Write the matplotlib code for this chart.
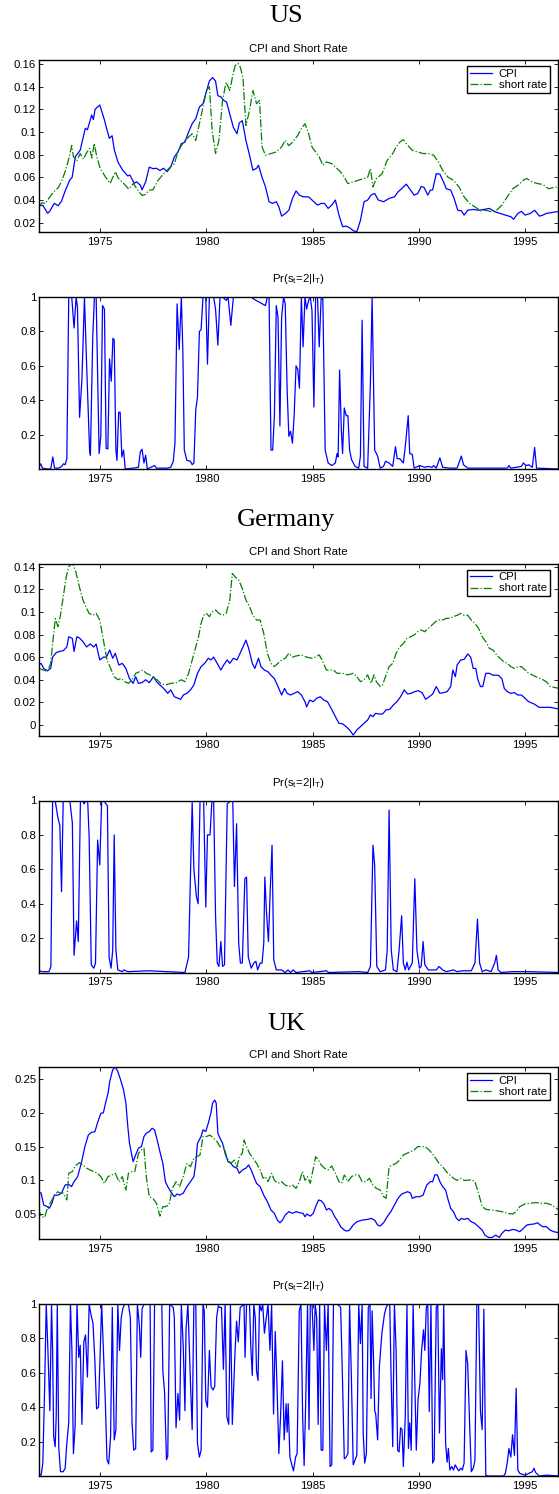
import matplotlib
matplotlib.use("Agg")
import matplotlib.pyplot as plt

plt.rcParams['font.family'] = ['Liberation Sans', 'DejaVu Sans']
plt.rcParams['mathtext.fontset'] = 'custom'
plt.rcParams['mathtext.rm'] = 'Liberation Sans'
plt.rcParams['mathtext.it'] = 'Liberation Sans'
plt.rcParams['mathtext.default'] = 'regular'

# ---------------- US ----------------
us_cpi_t = [1972.12, 1972.3, 1972.53, 1972.62, 1972.84, 1973.02, 1973.18, 1973.34, 1973.57, 1973.68,
            1973.83, 1974.06, 1974.3, 1974.4, 1974.6, 1974.68, 1974.76, 1974.98, 1975.2, 1975.3,
            1975.43, 1975.56, 1975.67, 1975.83, 1976.05, 1976.3, 1976.4, 1976.6, 1976.72, 1976.89,
            1976.97, 1977.14, 1977.31, 1977.48, 1977.65, 1977.81, 1977.98, 1978.15, 1978.32, 1978.49,
            1978.66, 1978.82, 1978.99, 1979.16, 1979.33, 1979.5, 1979.67, 1979.84, 1979.97, 1980.14,
            1980.29, 1980.43, 1980.54, 1980.68, 1980.81, 1980.95, 1981.1, 1981.27, 1981.44, 1981.55,
            1981.69, 1981.86, 1982.03, 1982.19, 1982.36, 1982.45, 1982.62, 1982.78, 1982.95, 1983.12,
            1983.29, 1983.41, 1983.54, 1983.71, 1983.88, 1984.05, 1984.22, 1984.38, 1984.55, 1984.81,
            1985.06, 1985.23, 1985.4, 1985.56, 1985.73, 1985.9, 1986.07, 1986.24, 1986.41, 1986.58,
            1986.74, 1986.91, 1987.08, 1987.25, 1987.42, 1987.59, 1987.75, 1987.92, 1988.09, 1988.34,
            1988.6, 1988.85, 1989.02, 1989.19, 1989.41, 1989.61, 1989.78, 1989.95, 1990.11, 1990.25,
            1990.42, 1990.54, 1990.65, 1990.82, 1990.99, 1991.16, 1991.29, 1991.5, 1991.66, 1991.83,
            1992.0, 1992.13, 1992.3, 1992.56, 1992.81, 1993.06, 1993.32, 1993.57, 1993.82, 1994.07,
            1994.33, 1994.46, 1994.66, 1994.83, 1995.0, 1995.25, 1995.45, 1995.67, 1995.84, 1996.0,
            1996.26, 1996.6]
us_cpi_v = [0.035, 0.0353, 0.0283, 0.030, 0.0371, 0.035, 0.039, 0.0474, 0.0577, 0.060,
            0.0782, 0.084, 0.1033, 0.102, 0.115, 0.111, 0.120, 0.1238, 0.1106, 0.1033,
            0.0944, 0.0967, 0.084, 0.0738, 0.0665, 0.0612, 0.062, 0.0548, 0.056, 0.053,
            0.049, 0.056, 0.069, 0.0677, 0.068, 0.066, 0.068, 0.065, 0.069, 0.078,
            0.0824, 0.0897, 0.091, 0.100, 0.1073, 0.1117, 0.122, 0.125, 0.1336, 0.145,
            0.148, 0.145, 0.132, 0.131, 0.128, 0.1263, 0.116, 0.104, 0.0985, 0.108,
            0.110, 0.0926, 0.0795, 0.0663, 0.068, 0.0707, 0.060, 0.0516, 0.0385, 0.037,
            0.0385, 0.034, 0.0258, 0.028, 0.031, 0.0414, 0.048, 0.0443, 0.0428, 0.0428,
            0.0385, 0.0355, 0.037, 0.037, 0.0326, 0.0355, 0.040, 0.0267, 0.0165, 0.017,
            0.0155, 0.013, 0.012, 0.022, 0.0385, 0.040, 0.0443, 0.0458, 0.040, 0.0385,
            0.0414, 0.0428, 0.0472, 0.050, 0.054, 0.0487, 0.0443, 0.0458, 0.052, 0.051,
            0.0443, 0.0487, 0.049, 0.0633, 0.0628, 0.056, 0.050, 0.0487, 0.0414, 0.031,
            0.0305, 0.0267, 0.031, 0.0317, 0.031, 0.0317, 0.0326, 0.0297, 0.0282, 0.0267,
            0.0253, 0.023, 0.0282, 0.030, 0.0267, 0.0282, 0.031, 0.0258, 0.0267, 0.0282,
            0.029, 0.030]

us_rate_t = [1972.12, 1972.25, 1972.41, 1972.64, 1972.8, 1973.04, 1973.19, 1973.35, 1973.51, 1973.66,
             1973.74, 1973.9, 1974.06, 1974.21, 1974.34, 1974.5, 1974.61, 1974.72, 1974.84, 1975.0,
             1975.24, 1975.47, 1975.71, 1975.86, 1976.1, 1976.34, 1976.57, 1976.72, 1976.89, 1976.97,
             1977.14, 1977.31, 1977.48, 1977.73, 1977.98, 1978.24, 1978.49, 1978.66, 1978.82, 1978.99,
             1979.16, 1979.33, 1979.5, 1979.67, 1979.84, 1980.0, 1980.14, 1980.27, 1980.43, 1980.59,
             1980.76, 1980.93, 1981.1, 1981.22, 1981.35, 1981.49, 1981.6, 1981.72, 1981.86, 1982.03,
             1982.19, 1982.36, 1982.5, 1982.62, 1982.78, 1983.04, 1983.29, 1983.54, 1983.71, 1983.88,
             1984.05, 1984.3, 1984.47, 1984.64, 1984.81, 1984.97, 1985.14, 1985.31, 1985.48, 1985.65,
             1985.9, 1986.15, 1986.32, 1986.49, 1986.66, 1986.91, 1987.17, 1987.42, 1987.59, 1987.72,
             1987.84, 1988.0, 1988.26, 1988.51, 1988.77, 1988.93, 1989.1, 1989.27, 1989.44, 1989.69,
             1989.95, 1990.2, 1990.45, 1990.7, 1990.92, 1991.12, 1991.38, 1991.63, 1991.89, 1992.13,
             1992.39, 1992.64, 1992.9, 1993.15, 1993.4, 1993.66, 1993.91, 1994.16, 1994.42, 1994.67,
             1994.92, 1995.08, 1995.34, 1995.59, 1995.84, 1996.1, 1996.35, 1996.6]
us_rate_v = [0.034, 0.0375, 0.037, 0.043, 0.047, 0.0512, 0.057, 0.065, 0.0755, 0.088,
             0.0782, 0.0747, 0.081, 0.076, 0.081, 0.0856, 0.077, 0.090, 0.0782, 0.068,
             0.0606, 0.0547, 0.065, 0.059, 0.0547, 0.0497, 0.0547, 0.050, 0.0458, 0.044,
             0.045, 0.0487, 0.049, 0.0575, 0.063, 0.068, 0.072, 0.0824, 0.088, 0.0926,
             0.0955, 0.0985, 0.0926, 0.1073, 0.122, 0.1366, 0.140, 0.1014, 0.081, 0.0926,
             0.128, 0.144, 0.1366, 0.148, 0.1585, 0.1605, 0.157, 0.148, 0.1058, 0.119,
             0.1366, 0.125, 0.1278, 0.0868, 0.0795, 0.081, 0.0824, 0.0868, 0.0926, 0.088,
             0.091, 0.097, 0.103, 0.1073, 0.0985, 0.0868, 0.0824, 0.078, 0.0707, 0.0736,
             0.0721, 0.0677, 0.0648, 0.060, 0.0545, 0.056, 0.0575, 0.059, 0.060, 0.0677,
             0.0516, 0.059, 0.063, 0.075, 0.081, 0.0868, 0.091, 0.0932, 0.089, 0.0838,
             0.0824, 0.081, 0.081, 0.0795, 0.0736, 0.0663, 0.060, 0.0575, 0.0516, 0.0428,
             0.037, 0.034, 0.0305, 0.031, 0.0297, 0.031, 0.0355, 0.0428, 0.050, 0.053,
             0.0575, 0.059, 0.056, 0.0545, 0.0537, 0.050, 0.051, 0.0516]

us_prob_t = [1972.12, 1972.2, 1972.28, 1972.48, 1972.67, 1972.77, 1972.85, 1973.04, 1973.19, 1973.27,
             1973.35, 1973.43, 1973.52, 1973.66, 1973.77, 1973.87, 1973.93, 1974.03, 1974.14, 1974.26,
             1974.37, 1974.5, 1974.54, 1974.65, 1974.73, 1974.81, 1974.89, 1974.95, 1975.03, 1975.11,
             1975.2, 1975.28, 1975.36, 1975.44, 1975.52, 1975.6, 1975.66, 1975.74, 1975.79, 1975.87,
             1975.94, 1976.02, 1976.1, 1976.18, 1976.55, 1976.8, 1976.89, 1976.97, 1977.06, 1977.14,
             1977.22, 1977.56, 1977.65, 1978.15, 1978.32, 1978.44, 1978.52, 1978.62, 1978.72, 1978.82,
             1978.89, 1978.96, 1979.08, 1979.25, 1979.33, 1979.41, 1979.5, 1979.58, 1979.67, 1979.75,
             1979.84, 1979.97, 1980.05, 1980.14, 1980.34, 1980.43, 1980.54, 1980.64, 1980.76, 1980.93,
             1981.02, 1981.15, 1981.27, 1982.1, 1982.2, 1982.78, 1982.87, 1982.95, 1983.04, 1983.12,
             1983.2, 1983.29, 1983.37, 1983.46, 1983.54, 1983.63, 1983.71, 1983.8, 1983.88, 1983.96,
             1984.05, 1984.13, 1984.22, 1984.3, 1984.38, 1984.47, 1984.55, 1984.64, 1984.72, 1984.81,
             1984.89, 1984.97, 1985.06, 1985.14, 1985.23, 1985.31, 1985.4, 1985.48, 1985.59, 1985.73,
             1985.9, 1986.07, 1986.15, 1986.2, 1986.27, 1986.35, 1986.41, 1986.49, 1986.58, 1986.66,
             1986.74, 1986.83, 1987.0, 1987.17, 1987.25, 1987.33, 1987.42, 1987.59, 1987.72, 1987.8,
             1987.92, 1988.06, 1988.18, 1988.34, 1988.43, 1988.6, 1988.77, 1988.9, 1988.98, 1989.1,
             1989.27, 1989.36, 1989.5, 1989.57, 1989.69, 1989.78, 1990.03, 1990.28, 1990.45, 1990.62,
             1990.7, 1990.82, 1990.99, 1991.12, 1991.46, 1991.8, 1992.0, 1992.1, 1992.3, 1994.16,
             1994.24, 1994.33, 1994.83, 1994.92, 1995.0, 1995.08, 1995.17, 1995.34, 1995.45, 1995.54,
             1996.6]
us_prob_v = [0.015, 0.03, 0.005, 0.0, 0.0, 0.07, 0.005, 0.005, 0.015, 0.03,
             0.025, 0.06, 1.0, 1.0, 0.82, 1.0, 0.94, 0.30, 0.52, 1.0,
             0.575, 0.11, 0.08, 0.77, 1.0, 1.0, 0.48, 0.09, 0.19, 0.95,
             0.93, 0.12, 0.117, 0.64, 0.51, 0.76, 0.75, 0.11, 0.05, 0.33,
             0.33, 0.07, 0.11, 0.0, 0.005, 0.01, 0.10, 0.115, 0.035, 0.08,
             0.0, 0.02, 0.005, 0.005, 0.01, 0.045, 0.15, 0.96, 0.695, 1.0,
             0.69, 0.11, 0.05, 0.045, 0.025, 0.035, 0.345, 0.42, 0.80, 0.81,
             1.0, 1.0, 0.61, 1.0, 1.0, 0.93, 0.72, 1.0, 1.0, 0.98,
             1.0, 0.835, 1.0, 1.0, 0.99, 0.95, 1.0, 1.0, 0.11, 0.11,
             0.31, 0.95, 0.88, 0.25, 0.88, 1.0, 0.96, 0.46, 0.19, 0.22,
             0.15, 0.31, 0.60, 0.58, 0.47, 1.0, 0.71, 1.0, 0.93, 0.98,
             1.0, 0.92, 0.36, 1.0, 1.0, 0.71, 0.99, 0.99, 0.11, 0.035,
             0.02, 0.035, 0.09, 0.07, 0.575, 0.23, 0.09, 0.355, 0.31, 0.31,
             0.11, 0.055, 0.015, 0.005, 0.075, 0.865, 0.015, 0.005, 0.5, 1.0,
             0.11, 0.075, 0.005, 0.015, 0.045, 0.035, 0.015, 0.13, 0.06, 0.06,
             0.035, 0.13, 0.31, 0.09, 0.085, 0.005, 0.02, 0.01, 0.015, 0.01,
             0.02, 0.005, 0.065, 0.01, 0.005, 0.005, 0.075, 0.025, 0.005, 0.005,
             0.02, 0.005, 0.015, 0.035, 0.025, 0.02, 0.025, 0.01, 0.125, 0.005,
             0.0]

# ---------------- Germany ----------------
de_cpi_t = [1972.09, 1972.22, 1972.34, 1972.51, 1972.67, 1972.76, 1972.93, 1973.09, 1973.26, 1973.43,
            1973.52, 1973.69, 1973.77, 1973.9, 1974.02, 1974.19, 1974.36, 1974.53, 1974.7, 1974.81,
            1974.98, 1975.15, 1975.29, 1975.45, 1975.59, 1975.71, 1975.88, 1976.04, 1976.21, 1976.38,
            1976.55, 1976.67, 1976.8, 1976.97, 1977.14, 1977.31, 1977.51, 1977.65, 1977.81, 1977.98,
            1978.18, 1978.32, 1978.49, 1978.66, 1978.79, 1978.91, 1979.08, 1979.25, 1979.41, 1979.58,
            1979.75, 1979.92, 1980.09, 1980.21, 1980.34, 1980.51, 1980.68, 1980.81, 1980.98, 1981.1,
            1981.27, 1981.44, 1981.55, 1981.72, 1981.86, 1981.99, 1982.16, 1982.28, 1982.45, 1982.57,
            1982.73, 1982.9, 1983.04, 1983.2, 1983.37, 1983.54, 1983.68, 1983.8, 1983.96, 1984.13,
            1984.3, 1984.47, 1984.64, 1984.72, 1984.86, 1985.03, 1985.19, 1985.36, 1985.53, 1985.7,
            1985.87, 1986.07, 1986.24, 1986.41, 1986.58, 1986.74, 1986.91, 1987.08, 1987.25, 1987.42,
            1987.59, 1987.72, 1987.84, 1987.96, 1988.13, 1988.29, 1988.46, 1988.63, 1988.8, 1988.97,
            1989.14, 1989.31, 1989.47, 1989.64, 1989.81, 1989.98, 1990.15, 1990.32, 1990.49, 1990.65,
            1990.82, 1990.99, 1991.16, 1991.33, 1991.5, 1991.6, 1991.72, 1991.8, 1991.97, 1992.13,
            1992.3, 1992.44, 1992.56, 1992.68, 1992.78, 1992.9, 1993.01, 1993.15, 1993.32, 1993.49,
            1993.74, 1993.91, 1994.02, 1994.16, 1994.33, 1994.5, 1994.66, 1994.83, 1995.0, 1995.17,
            1995.42, 1995.67, 1995.93, 1996.18, 1996.44, 1996.6]
de_cpi_v = [0.053, 0.0545, 0.050, 0.048, 0.050, 0.060, 0.064, 0.065, 0.0657, 0.069,
            0.078, 0.0766, 0.065, 0.078, 0.077, 0.0737, 0.069, 0.0716, 0.069, 0.0716,
            0.0575, 0.060, 0.060, 0.0663, 0.059, 0.0634, 0.053, 0.0545, 0.050, 0.041,
            0.0368, 0.0427, 0.0368, 0.0374, 0.040, 0.0374, 0.0427, 0.0383, 0.0354, 0.0324,
            0.028, 0.031, 0.025, 0.0236, 0.0227, 0.0265, 0.028, 0.031, 0.0354, 0.0457,
            0.0516, 0.0545, 0.059, 0.0575, 0.060, 0.0545, 0.0486, 0.053, 0.0575, 0.0545,
            0.059, 0.0575, 0.062, 0.069, 0.075, 0.0678, 0.0545, 0.050, 0.059, 0.0516,
            0.0486, 0.047, 0.044, 0.041, 0.034, 0.0265, 0.0324, 0.028, 0.0265, 0.028,
            0.0295, 0.0265, 0.0206, 0.016, 0.022, 0.0206, 0.0236, 0.025, 0.022, 0.0206,
            0.0147, 0.0074, 0.0015, 0.001, -0.0015, -0.0044, -0.0089, -0.0044, -0.0015, 0.0015,
            0.0044, 0.0089, 0.0074, 0.0103, 0.0097, 0.0097, 0.0133, 0.0138, 0.0177, 0.0206,
            0.025, 0.031, 0.0274, 0.028, 0.0295, 0.0303, 0.0286, 0.0227, 0.025, 0.0274,
            0.034, 0.028, 0.0286, 0.0295, 0.034, 0.0486, 0.0427, 0.053, 0.0575, 0.058,
            0.0628, 0.060, 0.050, 0.050, 0.040, 0.034, 0.034, 0.0457, 0.0457, 0.044,
            0.044, 0.041, 0.0324, 0.0295, 0.028, 0.0286, 0.0265, 0.0265, 0.0236, 0.0206,
            0.0186, 0.0156, 0.0156, 0.0156, 0.0147, 0.0138]

de_rate_t = [1972.09, 1972.34, 1972.51, 1972.67, 1972.76, 1972.89, 1973.01, 1973.13, 1973.26, 1973.4,
             1973.52, 1973.69, 1973.85, 1974.02, 1974.19, 1974.36, 1974.48, 1974.65, 1974.81, 1974.98,
             1975.15, 1975.32, 1975.49, 1975.66, 1975.83, 1975.99, 1976.16, 1976.33, 1976.5, 1976.67,
             1976.84, 1977.0, 1977.17, 1977.34, 1977.51, 1977.68, 1977.85, 1978.07, 1978.32, 1978.57,
             1978.82, 1978.99, 1979.16, 1979.33, 1979.5, 1979.63, 1979.75, 1979.87, 1980.0, 1980.14,
             1980.26, 1980.43, 1980.59, 1980.76, 1980.93, 1981.1, 1981.22, 1981.35, 1981.52, 1981.69,
             1981.86, 1982.03, 1982.19, 1982.36, 1982.53, 1982.7, 1982.87, 1983.04, 1983.2, 1983.37,
             1983.54, 1983.71, 1983.88, 1984.05, 1984.22, 1984.47, 1984.72, 1984.97, 1985.14, 1985.31,
             1985.48, 1985.65, 1985.82, 1985.98, 1986.15, 1986.41, 1986.66, 1986.91, 1987.08, 1987.25,
             1987.42, 1987.59, 1987.75, 1987.89, 1988.0, 1988.18, 1988.29, 1988.43, 1988.6, 1988.77,
             1988.93, 1989.1, 1989.27, 1989.44, 1989.61, 1989.78, 1989.95, 1990.11, 1990.28, 1990.45,
             1990.62, 1990.79, 1990.95, 1991.12, 1991.29, 1991.46, 1991.63, 1991.8, 1991.97, 1992.13,
             1992.3, 1992.47, 1992.64, 1992.81, 1992.98, 1993.15, 1993.32, 1993.49, 1993.66, 1993.82,
             1993.99, 1994.16, 1994.33, 1994.5, 1994.66, 1994.83, 1995.0, 1995.17, 1995.34, 1995.5,
             1995.67, 1995.84, 1996.0, 1996.18, 1996.35, 1996.6]
de_rate_v = [0.050, 0.0486, 0.047, 0.0545, 0.072, 0.094, 0.087, 0.097, 0.1135, 0.131,
             0.140, 0.143, 0.1356, 0.1223, 0.1105, 0.1032, 0.0987, 0.097, 0.0987, 0.0928,
             0.075, 0.0575, 0.050, 0.0427, 0.040, 0.0413, 0.0383, 0.0368, 0.040, 0.0457,
             0.047, 0.0486, 0.0457, 0.0443, 0.0413, 0.040, 0.0368, 0.0354, 0.0368, 0.0374,
             0.040, 0.0383, 0.0457, 0.0575, 0.069, 0.078, 0.0899, 0.097, 0.0987, 0.0958,
             0.100, 0.1017, 0.0987, 0.097, 0.0987, 0.1105, 0.134, 0.131, 0.128, 0.1208,
             0.1105, 0.1046, 0.097, 0.0928, 0.0928, 0.081, 0.0634, 0.0545, 0.0516, 0.0545,
             0.0575, 0.059, 0.0634, 0.060, 0.061, 0.062, 0.060, 0.059, 0.060, 0.062,
             0.056, 0.0486, 0.0486, 0.0486, 0.0457, 0.0457, 0.0443, 0.0457, 0.0427, 0.0383,
             0.040, 0.0443, 0.0368, 0.0443, 0.0383, 0.034, 0.0354, 0.0427, 0.0516, 0.0545,
             0.0634, 0.069, 0.072, 0.0766, 0.078, 0.0796, 0.0825, 0.084, 0.0825, 0.0855,
             0.0884, 0.0914, 0.0928, 0.0928, 0.0943, 0.0943, 0.0958, 0.097, 0.0987, 0.097,
             0.097, 0.0928, 0.0899, 0.0855, 0.078, 0.0737, 0.0678, 0.0663, 0.062, 0.059,
             0.056, 0.0545, 0.0516, 0.050, 0.0516, 0.0516, 0.0486, 0.0457, 0.0443, 0.0427,
             0.0413, 0.040, 0.0383, 0.034, 0.0333, 0.0324]

de_prob_t = [1972.09, 1972.14, 1972.26, 1972.59, 1972.68, 1972.76, 1972.88, 1973.01, 1973.1, 1973.18,
             1973.26, 1973.43, 1973.57, 1973.69, 1973.77, 1973.89, 1973.97, 1974.07, 1974.19, 1974.24,
             1974.33, 1974.41, 1974.48, 1974.58, 1974.7, 1974.78, 1974.88, 1974.98, 1975.07, 1975.17,
             1975.27, 1975.34, 1975.42, 1975.51, 1975.59, 1975.66, 1975.74, 1975.83, 1976.04, 1976.12,
             1976.3, 1977.31, 1978.99, 1979.16, 1979.33, 1979.41, 1979.53, 1979.61, 1979.7, 1979.87,
             1979.97, 1980.05, 1980.17, 1980.26, 1980.34, 1980.43, 1980.51, 1980.59, 1980.68, 1980.76,
             1980.85, 1980.98, 1981.15, 1981.24, 1981.32, 1981.42, 1981.52, 1981.6, 1981.69, 1981.81,
             1981.89, 1981.97, 1982.11, 1982.23, 1982.33, 1982.41, 1982.53, 1982.62, 1982.7, 1982.75,
             1982.83, 1982.92, 1983.0, 1983.09, 1983.17, 1983.29, 1983.54, 1983.71, 1983.84, 1983.96,
             1984.08, 1984.22, 1984.86, 1984.97, 1985.65, 1985.75, 1987.17, 1987.59, 1987.72, 1987.84,
             1987.92, 1988.02, 1988.18, 1988.43, 1988.51, 1988.6, 1988.7, 1988.8, 1988.97, 1989.07,
             1989.19, 1989.27, 1989.36, 1989.44, 1989.52, 1989.69, 1989.81, 1989.91, 1990.03, 1990.11,
             1990.2, 1990.28, 1990.45, 1990.7, 1990.82, 1990.95, 1991.12, 1991.29, 1991.63, 1991.8,
             1992.05, 1992.47, 1992.64, 1992.76, 1992.86, 1992.98, 1993.15, 1993.4, 1993.57, 1993.65,
             1993.73, 1993.87, 1994.37, 1995.2, 1996.6]
de_prob_v = [0.13, 0.01, 0.005, 0.005, 0.035, 1.0, 1.0, 0.9, 0.855, 0.47,
             1.0, 1.0, 1.0, 0.87, 0.10, 0.30, 0.18, 1.0, 1.0, 0.98,
             1.0, 1.0, 0.79, 0.045, 0.025, 0.055, 0.77, 0.625, 1.0, 1.0,
             0.98, 0.97, 0.09, 0.025, 0.13, 0.80, 0.13, 0.015, 0.005, 0.015,
             0.005, 0.01, 0.0, 0.09, 0.99, 0.60, 0.44, 0.40, 1.0, 1.0,
             0.38, 0.80, 0.80, 1.0, 1.0, 0.33, 0.055, 0.035, 0.18, 0.035,
             0.045, 0.98, 1.0, 1.0, 0.50, 0.865, 0.17, 0.055, 0.055, 0.545,
             0.555, 0.09, 0.025, 0.055, 0.065, 0.015, 0.055, 0.055, 0.17, 0.555,
             0.345, 0.18, 0.46, 0.74, 0.075, 0.015, 0.015, 0.0, 0.015, 0.0,
             0.015, 0.0, 0.01, 0.0, 0.01, 0.0, 0.005, 0.0, 0.035, 0.74,
             0.625, 0.035, 0.005, 0.015, 0.13, 0.945, 0.13, 0.015, 0.005, 0.13,
             0.33, 0.055, 0.015, 0.06, 0.015, 0.055, 0.545, 0.13, 0.025, 0.035,
             0.18, 0.045, 0.015, 0.015, 0.015, 0.035, 0.015, 0.005, 0.015, 0.005,
             0.01, 0.01, 0.055, 0.31, 0.055, 0.005, 0.015, 0.005, 0.055, 0.10,
             0.015, 0.0, 0.005, 0.005, 0.0]

# ---------------- UK ----------------
uk_cpi_t = [1972.09, 1972.22, 1972.34, 1972.51, 1972.6, 1972.73, 1972.84, 1973.01, 1973.18, 1973.35,
            1973.52, 1973.65, 1973.77, 1973.94, 1974.11, 1974.28, 1974.44, 1974.58, 1974.75, 1974.87,
            1975.03, 1975.15, 1975.25, 1975.37, 1975.45, 1975.59, 1975.71, 1975.83, 1975.96, 1976.1,
            1976.21, 1976.3, 1976.38, 1976.47, 1976.55, 1976.67, 1976.8, 1976.94, 1977.06, 1977.17,
            1977.31, 1977.44, 1977.56, 1977.68, 1977.81, 1977.95, 1978.07, 1978.18, 1978.32, 1978.49,
            1978.62, 1978.74, 1978.91, 1979.08, 1979.25, 1979.41, 1979.5, 1979.58, 1979.75, 1979.84,
            1979.97, 1980.09, 1980.21, 1980.29, 1980.39, 1980.46, 1980.54, 1980.64, 1980.76, 1980.88,
            1981.02, 1981.15, 1981.27, 1981.44, 1981.55, 1981.69, 1981.86, 1981.99, 1982.11, 1982.23,
            1982.36, 1982.53, 1982.7, 1982.87, 1983.04, 1983.2, 1983.34, 1983.46, 1983.58, 1983.71,
            1983.88, 1984.05, 1984.22, 1984.38, 1984.55, 1984.64, 1984.72, 1984.89, 1985.03, 1985.14,
            1985.28, 1985.4, 1985.53, 1985.65, 1985.77, 1985.9, 1986.04, 1986.15, 1986.32, 1986.49,
            1986.61, 1986.74, 1986.91, 1987.08, 1987.33, 1987.59, 1987.75, 1987.92, 1988.06, 1988.18,
            1988.34, 1988.51, 1988.68, 1988.85, 1989.02, 1989.19, 1989.36, 1989.47, 1989.61, 1989.69,
            1989.86, 1990.03, 1990.2, 1990.37, 1990.54, 1990.65, 1990.75, 1990.87, 1990.99, 1991.12,
            1991.26, 1991.38, 1991.5, 1991.63, 1991.77, 1991.89, 1992.0, 1992.13, 1992.3, 1992.47,
            1992.64, 1992.81, 1992.98, 1993.11, 1993.28, 1993.45, 1993.62, 1993.79, 1993.91, 1994.07,
            1994.24, 1994.41, 1994.58, 1994.75, 1994.92, 1995.08, 1995.25, 1995.42, 1995.59, 1995.71,
            1995.84, 1996.01, 1996.18, 1996.35, 1996.6]
uk_cpi_v = [0.0832, 0.081, 0.0634, 0.061, 0.0584, 0.066, 0.078, 0.078, 0.081, 0.093,
            0.094, 0.0906, 0.098, 0.1055, 0.1252, 0.150, 0.167, 0.171, 0.172, 0.1847,
            0.1995, 0.200, 0.2144, 0.229, 0.2465, 0.2639, 0.268, 0.2614, 0.249, 0.234,
            0.2144, 0.1797, 0.155, 0.140, 0.1277, 0.1376, 0.1475, 0.150, 0.1649, 0.1698,
            0.1723, 0.1772, 0.1748, 0.160, 0.1426, 0.1252, 0.098, 0.0906, 0.0832, 0.0757,
            0.0797, 0.078, 0.081, 0.0906, 0.098, 0.1055, 0.125, 0.155, 0.165, 0.1748,
            0.1723, 0.185, 0.1995, 0.2144, 0.219, 0.2144, 0.170, 0.1624, 0.155, 0.140,
            0.1277, 0.1252, 0.1203, 0.118, 0.1104, 0.1153, 0.118, 0.1228, 0.1153, 0.1055,
            0.0955, 0.0906, 0.078, 0.0683, 0.056, 0.051, 0.041, 0.0371, 0.041, 0.0485,
            0.0535, 0.051, 0.0535, 0.052, 0.051, 0.046, 0.050, 0.047, 0.051, 0.0609,
            0.0708, 0.0698, 0.065, 0.056, 0.0584, 0.055, 0.046, 0.041, 0.0312, 0.0262,
            0.0247, 0.0262, 0.0337, 0.0386, 0.041, 0.042, 0.0436, 0.041, 0.0337, 0.0322,
            0.0371, 0.046, 0.0535, 0.0634, 0.0733, 0.0797, 0.0817, 0.0832, 0.081, 0.0733,
            0.0757, 0.0757, 0.078, 0.093, 0.098, 0.098, 0.108, 0.108, 0.098, 0.0906,
            0.0856, 0.0708, 0.0584, 0.0535, 0.0436, 0.0401, 0.0436, 0.042, 0.0436, 0.0386,
            0.0361, 0.0312, 0.0262, 0.0188, 0.0153, 0.0153, 0.0188, 0.0153, 0.0213, 0.0262,
            0.0252, 0.0272, 0.0262, 0.0238, 0.0287, 0.0337, 0.0347, 0.0352, 0.0371, 0.0337,
            0.0312, 0.0312, 0.0262, 0.0238, 0.0222]

uk_rate_t = [1972.09, 1972.22, 1972.39, 1972.51, 1972.68, 1972.84, 1973.01, 1973.13, 1973.26, 1973.43,
             1973.52, 1973.69, 1973.85, 1974.02, 1974.19, 1974.36, 1974.53, 1974.7, 1974.87, 1975.03,
             1975.2, 1975.37, 1975.54, 1975.71, 1975.88, 1976.04, 1976.21, 1976.33, 1976.5, 1976.63,
             1976.8, 1976.94, 1977.06, 1977.17, 1977.31, 1977.48, 1977.65, 1977.81, 1977.95, 1978.07,
             1978.24, 1978.4, 1978.57, 1978.74, 1978.91, 1979.08, 1979.25, 1979.41, 1979.55, 1979.7,
             1979.84, 1980.0, 1980.17, 1980.34, 1980.51, 1980.64, 1980.81, 1980.98, 1981.15, 1981.32,
             1981.44, 1981.55, 1981.69, 1981.77, 1981.89, 1982.03, 1982.19, 1982.36, 1982.53, 1982.67,
             1982.78, 1982.9, 1983.07, 1983.2, 1983.37, 1983.54, 1983.71, 1983.88, 1984.05, 1984.22,
             1984.38, 1984.52, 1984.64, 1984.76, 1984.89, 1985.03, 1985.14, 1985.28, 1985.4, 1985.56,
             1985.73, 1985.9, 1986.07, 1986.24, 1986.37, 1986.49, 1986.66, 1986.83, 1987.0, 1987.17,
             1987.33, 1987.5, 1987.67, 1987.84, 1988.0, 1988.18, 1988.34, 1988.46, 1988.6, 1988.77,
             1988.93, 1989.1, 1989.27, 1989.44, 1989.61, 1989.78, 1989.95, 1990.11, 1990.28, 1990.45,
             1990.62, 1990.79, 1990.95, 1991.12, 1991.29, 1991.46, 1991.63, 1991.8, 1991.97, 1992.13,
             1992.3, 1992.47, 1992.64, 1992.81, 1992.98, 1993.15, 1993.4, 1993.66, 1993.91, 1994.16,
             1994.42, 1994.58, 1994.75, 1995.0, 1995.25, 1995.5, 1995.76, 1996.01, 1996.26, 1996.48,
             1996.6]
uk_rate_v = [0.0584, 0.046, 0.045, 0.0584, 0.068, 0.078, 0.083, 0.081, 0.081, 0.071,
             0.1104, 0.113, 0.122, 0.1262, 0.1228, 0.118, 0.1153, 0.113, 0.1104, 0.1055,
             0.0955, 0.1055, 0.108, 0.1104, 0.098, 0.1055, 0.0856, 0.1104, 0.113, 0.113,
             0.140, 0.145, 0.1475, 0.1055, 0.0757, 0.0733, 0.066, 0.047, 0.0609, 0.0609,
             0.0634, 0.088, 0.098, 0.0906, 0.1055, 0.125, 0.1203, 0.1327, 0.135, 0.1376,
             0.165, 0.165, 0.167, 0.1624, 0.157, 0.150, 0.150, 0.1327, 0.1252, 0.130,
             0.1203, 0.135, 0.140, 0.160, 0.150, 0.140, 0.1327, 0.1252, 0.1153, 0.103,
             0.1055, 0.098, 0.1104, 0.100, 0.0955, 0.098, 0.093, 0.0906, 0.093, 0.088,
             0.098, 0.113, 0.100, 0.1055, 0.0955, 0.118, 0.135, 0.130, 0.1228, 0.118,
             0.1153, 0.1213, 0.1104, 0.098, 0.0955, 0.108, 0.098, 0.1055, 0.108, 0.108,
             0.098, 0.098, 0.103, 0.093, 0.088, 0.0856, 0.0757, 0.0733, 0.1203, 0.1228,
             0.1252, 0.130, 0.1376, 0.140, 0.1426, 0.145, 0.150, 0.150, 0.150, 0.146,
             0.140, 0.1327, 0.1252, 0.1203, 0.113, 0.108, 0.103, 0.100, 0.103, 0.100,
             0.100, 0.1011, 0.098, 0.0807, 0.061, 0.057, 0.056, 0.055, 0.0535, 0.051,
             0.050, 0.0535, 0.061, 0.065, 0.066, 0.067, 0.066, 0.066, 0.0634, 0.0584,
             0.056]

uk_prob_t = [1972.09, 1972.14, 1972.22, 1972.3, 1972.39, 1972.46, 1972.54, 1972.63, 1972.71, 1972.76,
             1972.81, 1972.88, 1972.93, 1972.98, 1973.05, 1973.13, 1973.26, 1973.35, 1973.43, 1973.52,
             1973.6, 1973.67, 1973.74, 1973.82, 1973.91, 1973.99, 1974.06, 1974.14, 1974.23, 1974.31,
             1974.4, 1974.48, 1974.58, 1974.66, 1974.75, 1974.83, 1974.92, 1975.0, 1975.07, 1975.15,
             1975.24, 1975.32, 1975.4, 1975.49, 1975.57, 1975.66, 1975.74, 1975.83, 1975.91, 1975.99,
             1976.08, 1976.16, 1976.33, 1976.42, 1976.5, 1976.58, 1976.67, 1976.75, 1976.84, 1976.91,
             1976.97, 1977.06, 1977.28, 1977.35, 1977.4, 1977.48, 1977.56, 1977.9, 1977.95, 1978.03,
             1978.12, 1978.18, 1978.27, 1978.44, 1978.49, 1978.57, 1978.66, 1978.74, 1978.82, 1978.91,
             1978.99, 1979.04, 1979.13, 1979.25, 1979.33, 1979.41, 1979.5, 1979.58, 1979.67, 1979.75,
             1979.84, 1979.9, 1979.97, 1980.05, 1980.14, 1980.22, 1980.31, 1980.39, 1980.48, 1980.56,
             1980.63, 1980.71, 1980.8, 1980.88, 1980.96, 1981.05, 1981.13, 1981.22, 1981.29, 1981.35,
             1981.42, 1981.5, 1981.59, 1981.69, 1981.77, 1981.82, 1981.89, 1982.03, 1982.09, 1982.16,
             1982.23, 1982.3, 1982.36, 1982.43, 1982.5, 1982.58, 1982.65, 1982.73, 1982.82, 1982.9,
             1982.99, 1983.07, 1983.16, 1983.24, 1983.32, 1983.41, 1983.49, 1983.58, 1983.66, 1983.75,
             1983.8, 1983.85, 1983.93, 1984.03, 1984.1, 1984.2, 1984.27, 1984.37, 1984.45, 1984.53,
             1984.6, 1984.68, 1984.76, 1984.83, 1984.89, 1984.97, 1985.06, 1985.12, 1985.19, 1985.26,
             1985.33, 1985.4, 1985.48, 1985.56, 1985.65, 1985.73, 1985.82, 1985.9, 1985.98, 1986.15,
             1986.24, 1986.32, 1986.41, 1986.49, 1986.58, 1986.66, 1986.74, 1986.83, 1986.91, 1987.0,
             1987.08, 1987.17, 1987.25, 1987.33, 1987.38, 1987.45, 1987.53, 1987.62, 1987.7, 1987.75,
             1987.8, 1987.87, 1987.92, 1987.97, 1988.06, 1988.14, 1988.26, 1988.38, 1988.46, 1988.55,
             1988.63, 1988.7, 1988.77, 1988.85, 1988.93, 1989.0, 1989.07, 1989.14, 1989.21, 1989.27,
             1989.36, 1989.44, 1989.51, 1989.57, 1989.64, 1989.73, 1989.81, 1989.88, 1989.96, 1990.05,
             1990.13, 1990.22, 1990.28, 1990.35, 1990.42, 1990.49, 1990.57, 1990.65, 1990.72, 1990.82,
             1990.89, 1990.97, 1991.06, 1991.12, 1991.17, 1991.26, 1991.33, 1991.39, 1991.46, 1991.55,
             1991.63, 1991.71, 1991.8, 1991.88, 1991.97, 1992.05, 1992.13, 1992.22, 1992.3, 1992.39,
             1992.47, 1992.56, 1992.64, 1992.73, 1992.81, 1992.9, 1992.98, 1993.06, 1993.15, 1993.23,
             1993.99, 1994.07, 1994.16, 1994.24, 1994.33, 1994.41, 1994.5, 1994.58, 1994.66, 1994.75,
             1995.0, 1995.34, 1995.42, 1995.5, 1995.67, 1996.0, 1996.6]
uk_prob_v = [0.065, 0.01, 0.005, 0.075, 0.54, 1.0, 0.73, 0.38, 1.0, 0.73,
             0.23, 0.17, 0.345, 1.0, 0.17, 0.025, 0.025, 0.045, 0.19, 0.31,
             1.0, 0.73, 0.13, 0.29, 1.0, 0.69, 0.76, 0.30, 0.78, 0.82,
             0.575, 1.0, 0.93, 0.89, 0.67, 0.39, 0.40, 0.73, 1.0, 0.73,
             0.44, 0.095, 0.07, 0.23, 0.98, 0.21, 0.27, 1.0, 0.73, 0.92,
             0.98, 1.0, 1.0, 0.92, 0.31, 0.15, 0.16, 1.0, 0.88, 0.69,
             0.97, 1.0, 1.0, 1.0, 0.14, 0.15, 1.0, 1.0, 0.61, 0.49,
             0.095, 0.115, 1.0, 0.98, 0.92, 0.28, 0.48, 0.325, 1.0, 0.75,
             0.38, 0.85, 1.0, 0.54, 0.27, 1.0, 1.0, 0.19, 0.11, 0.15,
             1.0, 0.96, 0.44, 0.40, 0.73, 0.52, 0.50, 0.52, 0.92, 0.99,
             0.98, 0.98, 0.62, 1.0, 0.345, 0.30, 1.0, 0.30, 0.54, 0.73,
             0.90, 0.78, 0.98, 0.99, 1.0, 0.69, 1.0, 1.0, 0.75, 0.585,
             1.0, 0.92, 0.61, 0.555, 1.0, 0.96, 1.0, 0.83, 0.92, 1.0,
             0.73, 1.0, 0.36, 0.84, 0.54, 0.13, 0.345, 0.67, 0.21, 0.42,
             0.255, 0.42, 0.11, 0.06, 0.03, 0.11, 0.13, 0.96, 1.0, 0.345,
             0.06, 0.46, 1.0, 0.27, 1.0, 1.0, 0.73, 1.0, 0.92, 0.30,
             1.0, 0.15, 0.15, 1.0, 0.73, 1.0, 0.055, 0.065, 1.0, 1.0,
             0.99, 0.98, 0.54, 0.10, 0.11, 0.13, 1.0, 0.54, 0.065, 0.095,
             0.12, 1.0, 0.77, 1.0, 0.25, 0.075, 0.13, 0.98, 1.0, 0.45,
             0.96, 0.67, 0.38, 0.36, 0.21, 0.63, 0.83, 0.94, 0.98, 1.0,
             1.0, 0.54, 0.17, 1.0, 0.73, 0.15, 0.14, 0.28, 0.27, 0.055,
             0.345, 1.0, 0.16, 0.31, 0.15, 1.0, 0.54, 0.15, 0.44, 0.54,
             0.73, 0.85, 0.73, 0.98, 1.0, 0.375, 1.0, 0.075, 0.095, 0.98,
             1.0, 0.25, 0.74, 0.56, 1.0, 0.19, 0.08, 0.16, 0.035, 0.055,
             0.035, 0.065, 0.045, 0.03, 0.045, 0.035, 0.075, 0.73, 0.65, 0.30,
             0.025, 0.045, 0.09, 1.0, 1.0, 0.375, 0.27, 0.97, 0.005, 0.0,
             0.0, 0.015, 0.075, 0.16, 0.11, 0.24, 0.12, 0.51, 0.035, 0.015,
             0.005, 0.025, 0.045, 0.02, 0.0, 0.005, 0.0]

years = [1975, 1980, 1985, 1990, 1995]

W, H = 559, 1494
fig = plt.figure(figsize=(W / 100, H / 100), dpi=100)
XL, XR = 39, 558
X0, X1 = 1972.12, 1996.55
FS = 8.2


def make_ax(top, bottom):
    return fig.add_axes([XL / W, 1 - bottom / H, (XR - XL) / W, (bottom - top) / H])


def style(ax, ylim, yticks):
    ax.set_xlim(X0, X1)
    ax.set_ylim(ylim)
    ax.set_xticks(years)
    ax.set_xticklabels([str(y) for y in years])
    ax.set_yticks(yticks)
    ax.set_yticklabels(['%g' % t for t in yticks])
    ax.tick_params(direction='in', top=True, right=True, length=3, width=0.6,
                   labelsize=FS, colors='k')
    ax.tick_params(axis='x', pad=3.5)
    ax.tick_params(axis='y', pad=2)
    for s in ax.spines.values():
        s.set_linewidth(1.0)


groups = [
    ('US', us_cpi_t, us_cpi_v, us_rate_t, us_rate_v, us_prob_t, us_prob_v,
     (0.0118, 0.1635), [0.02, 0.04, 0.06, 0.08, 0.1, 0.12, 0.14, 0.16]),
    ('Germany', de_cpi_t, de_cpi_v, de_rate_t, de_rate_v, de_prob_t, de_prob_v,
     (-0.0093, 0.1428), [0, 0.02, 0.04, 0.06, 0.08, 0.1, 0.12, 0.14]),
    ('UK', uk_cpi_t, uk_cpi_v, uk_rate_t, uk_rate_v, uk_prob_t, uk_prob_v,
     (0.013, 0.268), [0.05, 0.1, 0.15, 0.2, 0.25]),
]
offsets = [0, 503.5, 1007]

for (name, ct, cv, rt, rv, pt, pv, ylim, yt), off in zip(groups, offsets):
    fig.text(286.5 / W, 1 - (22.5 + off) / H, name, ha='center', va='baseline',
             fontsize=19, family=['Liberation Serif', 'DejaVu Serif'])

    ax = make_ax(60 + off, 232 + off)
    ax.plot(ct, cv, color='b', lw=0.9, label='CPI')
    ax.plot(rt, rv, color=(0, 0.5, 0), lw=0.9, ls='-.', label='short rate')
    style(ax, ylim, yt)
    fig.text((XL + XR) / 2 / W, 1 - (51.5 + off) / H, 'CPI and Short Rate',
             ha='center', va='baseline', fontsize=FS)
    leg = ax.legend(loc='upper right', bbox_to_anchor=(549.5 / W, 1 - (66 + off) / H),
                    bbox_transform=fig.transFigure, borderaxespad=0,
                    fontsize=FS, fancybox=False, edgecolor='k', framealpha=1,
                    borderpad=0.25, labelspacing=0.1, handlelength=1.9, handletextpad=0.6)
    leg.get_frame().set_linewidth(1.0)

    ax2 = make_ax(297 + off, 469 + off)
    ax2.plot(pt, pv, color='b', lw=0.9)
    style(ax2, (0.0, 1.0), [0.2, 0.4, 0.6, 0.8, 1])
    fig.text((XL + XR) / 2 / W, 1 - (282 + off) / H, r'Pr(s$_t$=2|I$_T$)',
             ha='center', va='baseline', fontsize=FS)

fig.savefig('out.png', dpi=100)
